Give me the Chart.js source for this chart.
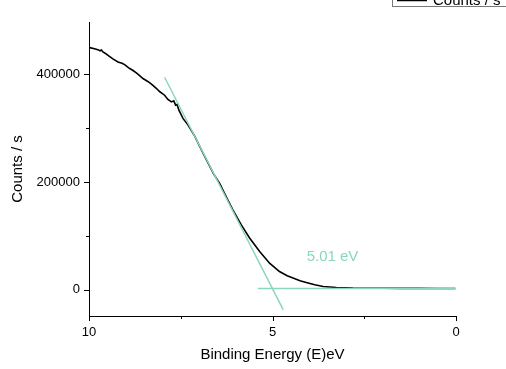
<!DOCTYPE html>
<html>
<head>
<meta charset="utf-8">
<script src="https://cdn.jsdelivr.net/npm/chart.js@4/dist/chart.umd.min.js"></script>
<style>
  html, body { margin: 0; padding: 0; background: #fff; }
  #wrap { width: 506px; height: 369px; }
</style>
</head>
<body>
<div id="wrap"><canvas id="vbChart" width="506" height="369"></canvas></div>
<script>
// Valence band spectrum
const energy = [9.98, 9.85, 9.76, 9.70, 9.66, 9.62, 9.55, 9.48, 9.35, 9.21, 9.10, 9.03, 8.96, 8.89, 8.80,
  8.71, 8.62, 8.53, 8.44, 8.35, 8.25, 8.16, 8.07, 7.94, 7.85, 7.755, 7.69, 7.64, 7.60, 7.55, 7.44,
  7.30, 7.12, 6.98, 6.80, 6.60, 6.44, 6.25, 6.08, 5.85, 5.62, 5.35, 5.08, 4.81, 4.60, 4.44, 4.25,
  4.08, 3.85, 3.62, 3.26, 2.81, 2.40, 2.00, 1.50, 1.00, 0.50, 0.02];
const counts = [449400, 447500, 445700, 443500, 445000, 441300, 438500, 435200, 428500, 422800, 420500,
  418000, 414000, 410600, 407000, 402400, 397500, 392000, 388500, 384600, 379000, 373500, 367500,
  361100, 353100, 348700, 350600, 342600, 343900, 333300, 318000, 305600, 285200, 265400, 241000,
  214500, 197600, 171000, 148100, 120400, 95700, 70900, 49400, 33900, 26000, 21700, 16800, 13500,
  9300, 6100, 4300, 3100, 2900, 2700, 2600, 2500, 2400, 2400];

// tangent + baseline used for the onset
const tangentX = [7.94, 4.71];
const tangentY = [394400, -37000];
const baseX = [5.40, 0.0];
const baseY = [2500, 2500];
const onsetLabel = '5.01 eV';
const onsetPos = [4.07, 60200];

const xTicks = [0, 2.5, 5, 7.5, 10];
const yTicks = [0, 100000, 200000, 300000, 400000];

const green = '#8bd6bd';
const font = "'Liberation Sans', Arial, sans-serif";

function pts(xs, ys) {
  return xs.map((x, i) => ({ x: x, y: ys[i] }));
}

// short minor ticks, long major ticks
const tickMarks = {
  id: 'tickMarks',
  afterDraw(chart) {
    const ctx = chart.ctx;
    const area = chart.chartArea;
    const sx = chart.scales.x, sy = chart.scales.y;
    ctx.save();
    ctx.strokeStyle = '#000';
    ctx.lineWidth = 1;
    xTicks.forEach(v => {
      const px = Math.round(sx.getPixelForValue(v)) + 0.5;
      const len = v % 5 === 0 ? 5 : 3;
      ctx.beginPath();
      ctx.moveTo(px, area.bottom);
      ctx.lineTo(px, area.bottom + len);
      ctx.stroke();
    });
    yTicks.forEach(v => {
      const py = Math.round(sy.getPixelForValue(v)) + 0.5;
      const len = v % 200000 === 0 ? 5 : 3;
      ctx.beginPath();
      ctx.moveTo(area.left, py);
      ctx.lineTo(area.left - len, py);
      ctx.stroke();
    });

    // onset value
    ctx.fillStyle = green;
    ctx.font = '15px ' + font;
    ctx.textAlign = 'left';
    ctx.textBaseline = 'middle';
    ctx.fillText(onsetLabel, sx.getPixelForValue(onsetPos[0]), sy.getPixelForValue(onsetPos[1]));

    // legend box, cut by the top edge
    ctx.strokeStyle = '#777';
    ctx.strokeRect(392.5, -12, 130, 18.5);
    ctx.strokeStyle = '#000';
    ctx.lineWidth = 1.5;
    ctx.beginPath();
    ctx.moveTo(397, 0.5);
    ctx.lineTo(427, 0.5);
    ctx.stroke();
    ctx.fillStyle = '#000';
    ctx.textBaseline = 'alphabetic';
    ctx.fillText('Counts / s', 433, 5);
    ctx.restore();
  }
};

new Chart(document.getElementById('vbChart').getContext('2d'), {
  type: 'line',
  data: {
    datasets: [
      { label: 'tangent', data: pts(tangentX, tangentY), borderColor: green, borderWidth: 1.5, pointRadius: 0, order: 0 },
      { label: 'base', data: pts(baseX, baseY), borderColor: green, borderWidth: 1.5, pointRadius: 0, order: 0 },
      { label: 'Counts / s', data: pts(energy, counts), borderColor: '#000', borderWidth: 1.6, pointRadius: 0, tension: 0, order: 1 }
    ]
  },
  plugins: [tickMarks],
  options: {
    responsive: false,
    animation: false,
    layout: { padding: { top: 22, right: 50, left: 0, bottom: 0 } },
    plugins: { legend: { display: false }, tooltip: { enabled: false } },
    scales: {
      x: {
        type: 'linear',
        reverse: true,
        min: 0,
        max: 10,
        afterBuildTicks: s => { s.ticks = xTicks.map(v => ({ value: v })); },
        afterFit: s => { s.height = 53; },
        grid: { display: false, drawTicks: true, tickLength: 5 },
        border: { display: true, color: '#000', width: 1 },
        ticks: {
          color: '#000',
          padding: 4,
          maxRotation: 0,
          font: { family: font, size: 13 },
          callback: v => (v % 5 === 0 ? String(v) : '')
        },
        title: {
          display: true,
          text: 'Binding Energy (E)eV',
          color: '#000',
          font: { family: font, size: 15 },
          padding: { top: 0, bottom: 5 }
        }
      },
      y: {
        type: 'linear',
        min: -48700,
        max: 497000,
        afterBuildTicks: s => { s.ticks = yTicks.map(v => ({ value: v })); },
        afterFit: s => { s.width = 89; },
        grid: { display: false, drawTicks: true, tickLength: 5 },
        border: { display: true, color: '#000', width: 1 },
        ticks: {
          color: '#000',
          padding: 4,
          font: { family: font, size: 13 },
          callback: v => (v % 200000 === 0 ? String(v) : '')
        },
        title: {
          display: true,
          text: 'Counts / s',
          color: '#000',
          font: { family: font, size: 15 },
          padding: { top: 9, bottom: 0 }
        }
      }
    }
  }
});
</script>
</body>
</html>
